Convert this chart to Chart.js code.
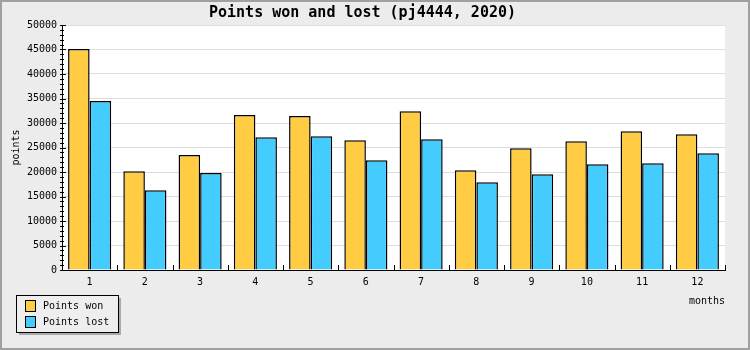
<!DOCTYPE html>
<html>
<head>
<meta charset="utf-8">
<script src="https://cdn.jsdelivr.net/npm/chart.js@4/dist/chart.umd.min.js"></script>
<style>
html,body{margin:0;padding:0;background:#ececec;}
#wrap{width:750px;height:350px;position:relative;}
</style>
</head>
<body>
<div id="wrap"><canvas id="c" width="750" height="350"></canvas></div>
<script>
const months = ['1','2','3','4','5','6','7','8','9','10','11','12'];
const pointsWon = [45100, 20150, 23470, 31630, 31430, 26470, 32380, 20340, 24830, 26260, 28300, 27690];
const pointsLost = [34490, 16270, 19800, 27080, 27280, 22380, 26670, 17890, 19520, 21570, 21770, 23810];
const seriesNames = ['Points won', 'Points lost'];
const seriesColors = ['#ffcc44', '#44ccff'];
const titleText = 'Points won and lost (pj4444, 2020)';

const MONO = "'DejaVu Sans Mono', monospace";

const decor = {
  id: 'decor',
  beforeDraw(chart) {
    const ctx = chart.ctx;
    ctx.save();
    ctx.fillStyle = '#ececec';
    ctx.fillRect(0, 0, chart.width, chart.height);
    const a = chart.chartArea;
    ctx.fillStyle = '#ffffff';
    ctx.fillRect(a.left, a.top, a.right - a.left, a.bottom - a.top);
    ctx.restore();
  },
  afterDraw(chart) {
    const ctx = chart.ctx;
    const a = chart.chartArea;
    const y = chart.scales.y;
    const x = chart.scales.x;
    ctx.save();
    ctx.strokeStyle = '#000';
    ctx.lineWidth = 1;
    for (let v = 0; v <= 50000; v += 1000) {
      const py = Math.round(y.getPixelForValue(v)) + 0.5;
      const major = v % 5000 === 0;
      ctx.beginPath();
      ctx.moveTo(a.left - 2, py);
      ctx.lineTo(a.left + (major ? 4 : 2), py);
      ctx.stroke();
    }
    const n = months.length;
    for (let i = 0; i <= n; i++) {
      const px = Math.round(x.getPixelForValue(i - 0.5)) + 0.5;
      ctx.beginPath();
      ctx.moveTo(px, a.bottom);
      ctx.lineTo(px, a.bottom - 5);
      ctx.stroke();
    }
    const lx = 16, ly = 295, lw = 102, lh = 37;
    ctx.fillStyle = '#aaaaaa';
    ctx.fillRect(lx + 3, ly + 3, lw, lh);
    ctx.fillStyle = '#eeeeee';
    ctx.fillRect(lx, ly, lw, lh);
    ctx.strokeStyle = '#000';
    ctx.strokeRect(lx + 0.5, ly + 0.5, lw, lh);
    chart.data.datasets.forEach((ds, i) => {
      const cy = 305.5 + i * 16;
      ctx.fillStyle = ds.backgroundColor;
      ctx.fillRect(25.5, cy - 5, 10, 11);
      ctx.strokeRect(25.5, cy - 5, 10, 11);
      ctx.fillStyle = '#000';
      ctx.font = '10px ' + MONO;
      ctx.textBaseline = 'middle';
      ctx.textAlign = 'left';
      ctx.fillText(ds.label, 43, cy + 1);
    });
    ctx.strokeStyle = '#a0a0a0';
    ctx.lineWidth = 2;
    ctx.strokeRect(1, 1, chart.width - 2, chart.height - 2);
    ctx.restore();
  }
};

new Chart(document.getElementById('c'), {
  type: 'bar',
  data: {
    labels: months,
    datasets: [
      { label: seriesNames[0], data: pointsWon, backgroundColor: seriesColors[0], borderColor: '#000', borderWidth: 1.5 },
      { label: seriesNames[1], data: pointsLost, backgroundColor: seriesColors[1], borderColor: '#000', borderWidth: 1.5 }
    ]
  },
  options: {
    responsive: false,
    animation: false,
    devicePixelRatio: 1,
    layout: { padding: { left: 0, right: 25, top: 0, bottom: 40 } },
    datasets: { bar: { categoryPercentage: 0.78, barPercentage: 1.0 } },
    plugins: {
      legend: { display: false },
      tooltip: { enabled: false },
      title: {
        display: true,
        text: titleText,
        color: '#000',
        font: { family: MONO, size: 15, weight: 'bold' },
        padding: { top: 4, bottom: 3 }
      }
    },
    scales: {
      x: {
        afterFit(s) { s.height = 40; },
        grid: { display: true, drawOnChartArea: false, drawTicks: false, color: 'transparent' },
        border: { display: true, color: '#000', width: 1 },
        ticks: { color: '#000', font: { family: MONO, size: 10 }, padding: 6, maxRotation: 0, autoSkip: false },
        title: { display: true, text: 'months', align: 'end', color: '#000', font: { family: MONO, size: 10 }, padding: { top: 0, bottom: 3 } }
      },
      y: {
        min: 0, max: 50000,
        afterFit(s) { s.width = 62; },
        ticks: { stepSize: 5000, color: '#000', font: { family: MONO, size: 10 }, padding: 5, callback: (v) => String(v) },
        grid: { color: '#dddddd', drawTicks: false },
        border: { display: true, color: '#000', width: 1 },
        title: { display: true, text: 'points', color: '#000', font: { family: MONO, size: 10 }, padding: { top: 10, bottom: 0 } }
      }
    }
  },
  plugins: [decor]
});
</script>
</body>
</html>
